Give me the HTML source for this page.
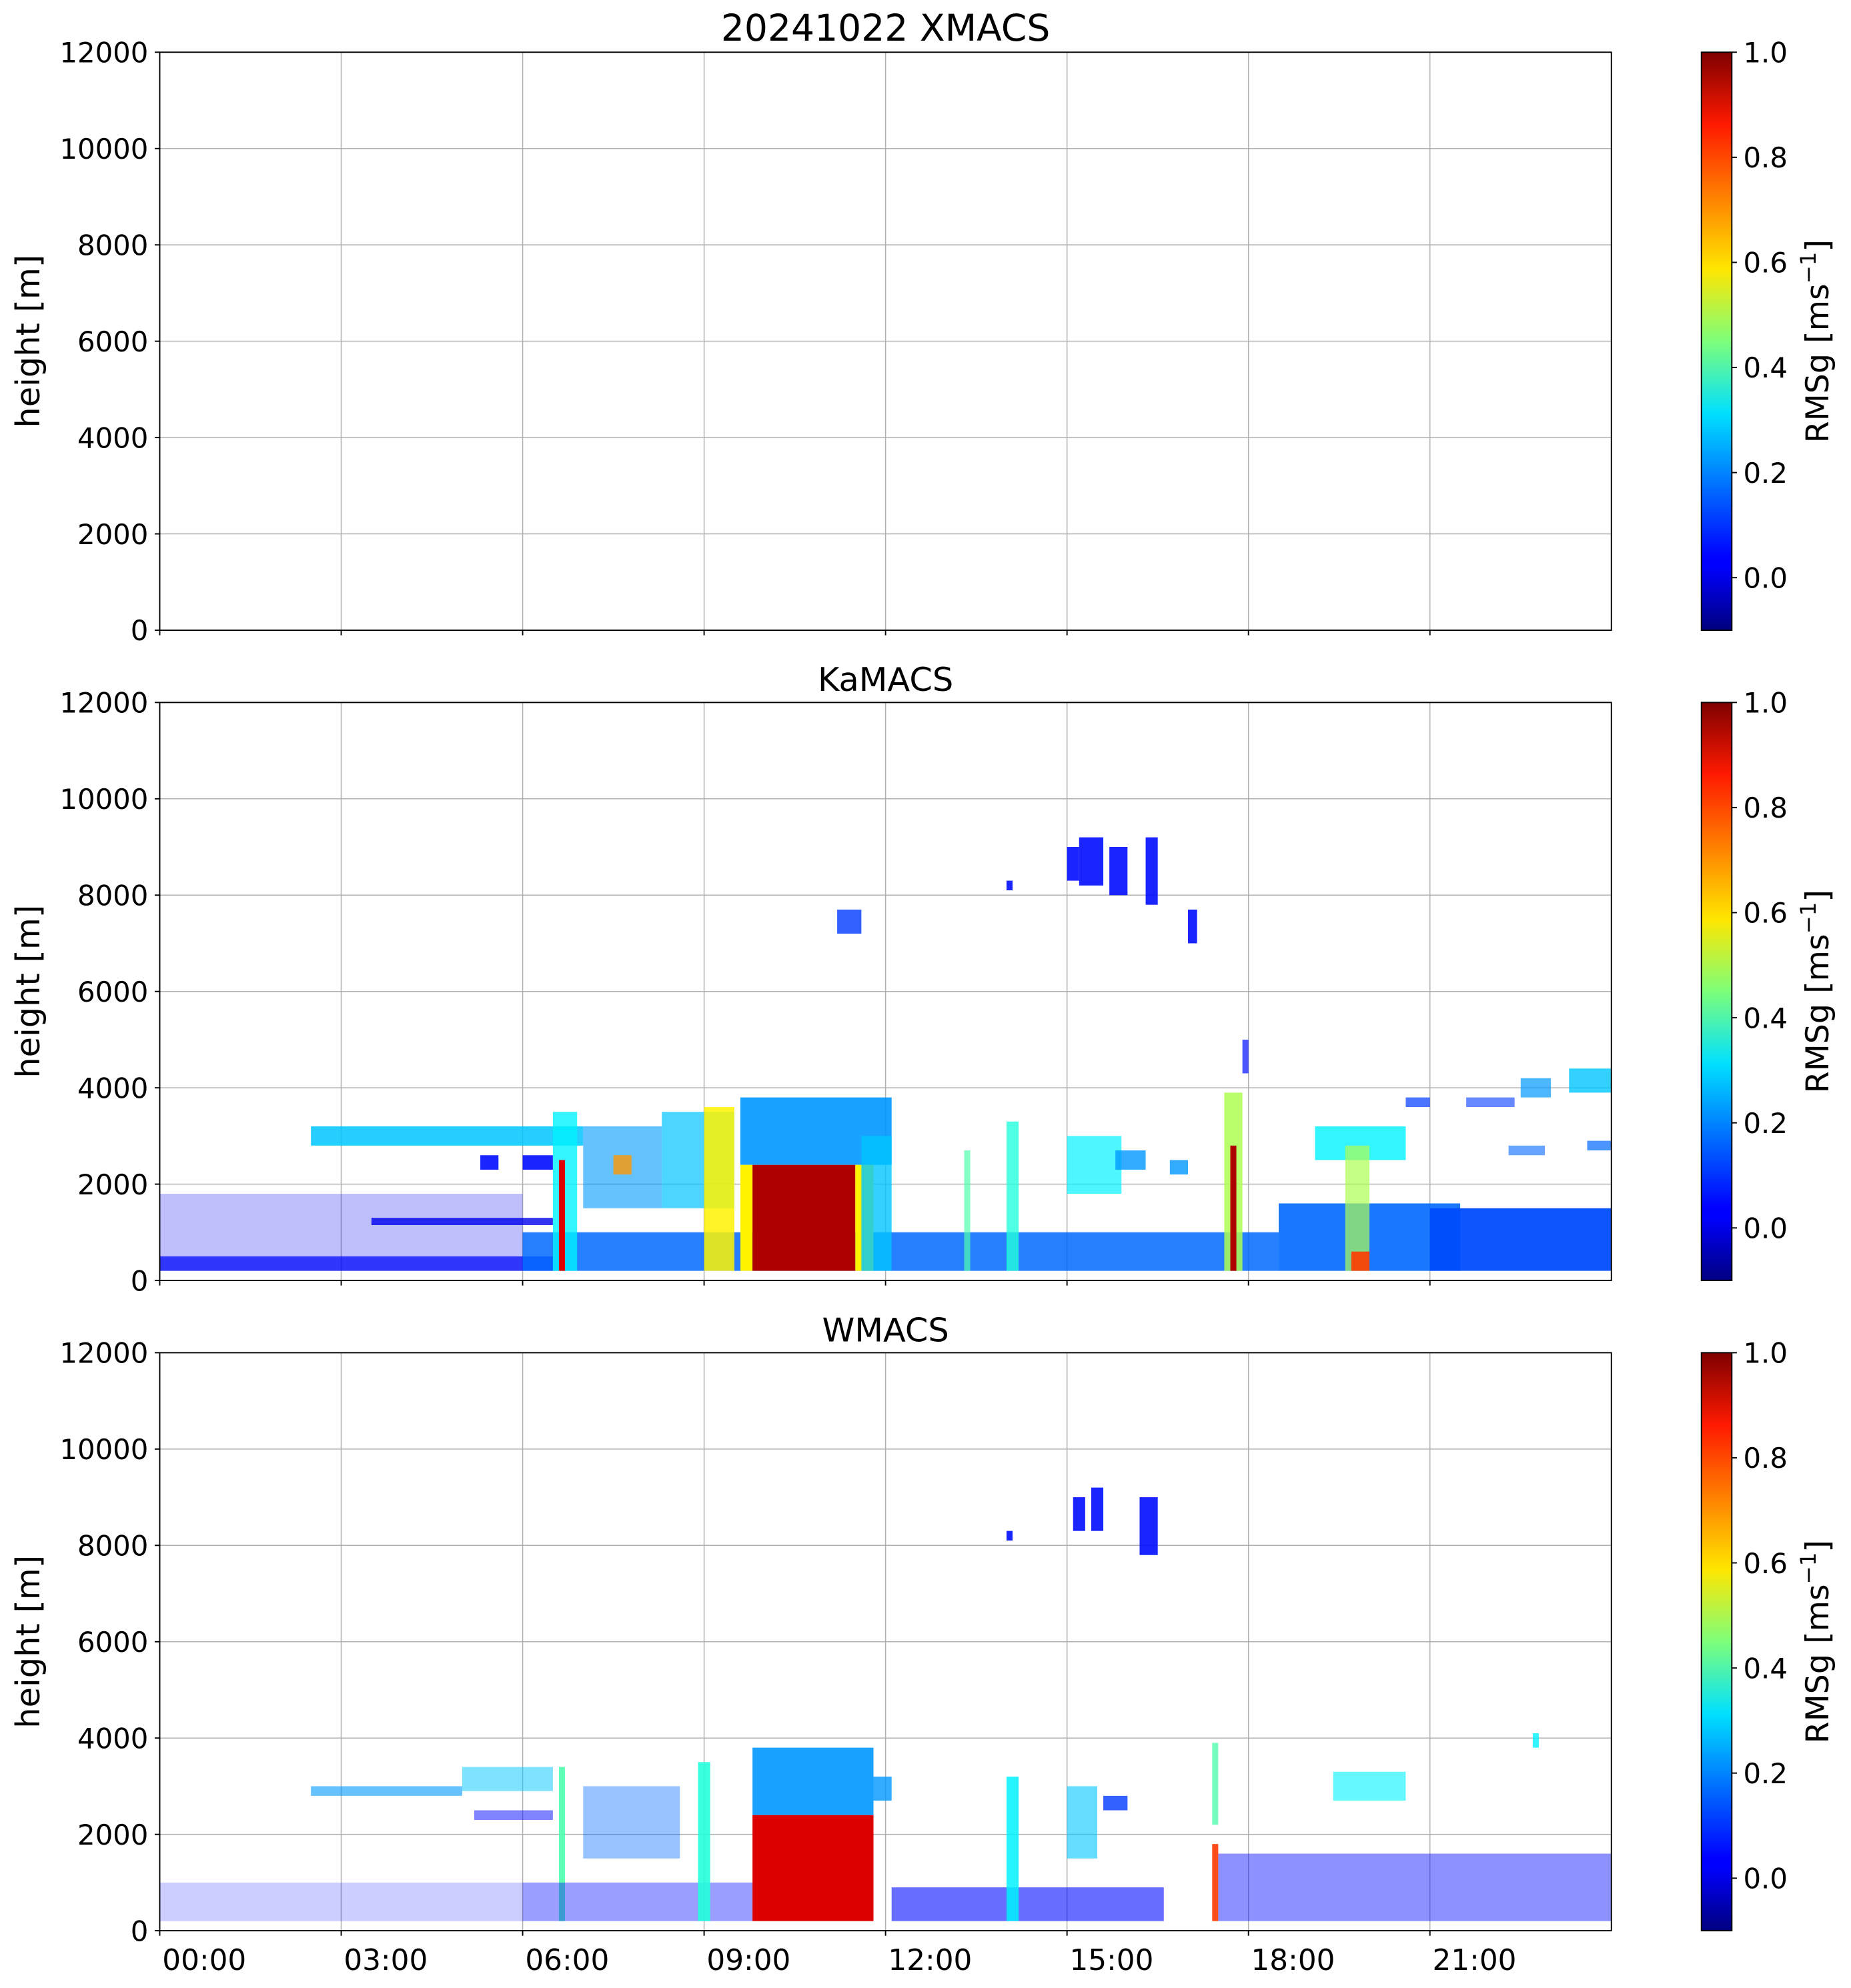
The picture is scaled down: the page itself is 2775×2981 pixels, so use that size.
<!DOCTYPE html>
<html><head><meta charset="utf-8"><style>
html,body{margin:0;padding:0;background:#fff}
svg{display:block}
text{font-family:"DejaVu Sans","Liberation Sans",sans-serif;fill:#000}
</style></head><body>
<svg id="fig" width="2775" height="2981" viewBox="0 0 1460 1568" xmlns="http://www.w3.org/2000/svg">
<defs>
<linearGradient id="jet" x1="0" y1="1" x2="0" y2="0">
<stop offset="0" stop-color="#00007f"/><stop offset="0.11" stop-color="#0000ff"/><stop offset="0.125" stop-color="#0000ff"/>
<stop offset="0.375" stop-color="#00e0ff"/><stop offset="0.5" stop-color="#7dff7a"/><stop offset="0.625" stop-color="#ffe600"/>
<stop offset="0.875" stop-color="#ff1a00"/><stop offset="1" stop-color="#7f0000"/>
</linearGradient>
</defs>
<g id="root"></g>
</svg>
<script>
// ---- data (hours, metres, RMSg values, fill density) ----
const xTickLabels = ["00:00","03:00","06:00","09:00","12:00","15:00","18:00","21:00"];
const xTickHours = [0,3,6,9,12,15,18,21];
const yTicks = [0,2000,4000,6000,8000,10000,12000];
const cbTicks = [0.0,0.2,0.4,0.6,0.8,1.0];
const panelTitles = ["20241022 XMACS","KaMACS","WMACS"];

const kaT0 = [0,0,6,3.5,2.5,5.3,6.0,6.5,6.6,7.0,7.5,8.3,9.0,9.6,9.6,9.8,11.5,11.6,13.3,14.0,15.0,15.8,16.7,17.6,17.7,17.9,18.5,21.0,19.1,19.6,19.7,20.6,21.6,22.5,23.3,22.3,23.6,15.0,15.2,15.7,16.3,17.0,11.2,14.0];
const kaT1 = [6.5,6,18.5,6.5,7.0,5.6,6.5,6.9,6.7,8.3,7.8,9.5,9.5,12.1,9.8,11.5,11.8,12.1,13.4,14.2,15.9,16.3,17.0,17.9,17.8,18.0,21.5,24,20.6,20.0,20.0,21.0,22.4,23.0,24,22.9,24,15.2,15.6,16.0,16.5,17.15,11.6,14.1];
const kaH0 = [200,200,200,1150,2800,2300,2300,200,200,1500,2200,1500,200,2400,200,200,200,200,200,200,1800,2300,2200,200,200,4300,200,200,2500,200,200,3600,3600,3800,3900,2600,2700,8300,8200,8000,7800,7000,7200,8100];
const kaH1 = [500,1800,1000,1300,3200,2600,2600,3500,2500,3200,2600,3500,3600,3800,2400,2400,2400,3000,2700,3300,3000,2700,2500,3900,2800,5000,1600,1500,3200,2800,600,3800,3800,4200,4400,2800,2900,9000,9200,9000,9200,7700,7700,8300];
const kaV  = [0.05,0.02,0.15,0.02,0.25,0.05,0.05,0.3,0.9,0.2,0.7,0.25,0.6,0.2,0.6,0.95,0.6,0.25,0.4,0.35,0.3,0.2,0.2,0.5,0.95,0.05,0.15,0.12,0.3,0.5,0.8,0.1,0.1,0.2,0.25,0.15,0.15,0.05,0.05,0.05,0.05,0.05,0.1,0.05];
const kaD  = [0.75,0.25,0.85,0.8,0.85,0.9,0.9,0.8,1,0.6,0.8,0.7,0.85,0.9,1,1,1,0.8,0.7,0.8,0.7,0.8,0.8,0.85,1,0.7,0.9,0.95,0.8,0.7,0.9,0.7,0.6,0.7,0.8,0.6,0.7,0.9,0.9,0.9,0.9,0.9,0.8,0.9];

const wT0 = [2.5,5.0,5.2,6.6,7.0,0,6.0,8.9,9.8,9.8,11.8,12.1,14.0,15.0,15.6,17.4,17.4,17.5,19.4,15.1,15.4,16.2,14.0,22.7];
const wT1 = [5.0,6.5,6.5,6.7,8.6,6.0,9.8,9.1,11.8,11.8,12.1,16.6,14.2,15.5,16.0,17.5,17.5,24,20.6,15.3,15.6,16.5,14.1,22.8];
const wH0 = [2800,2900,2300,200,1500,200,200,200,2400,200,2700,200,200,1500,2500,2200,200,200,2700,8300,8300,7800,8100,3800];
const wH1 = [3000,3400,2500,3400,3000,1000,1000,3500,3800,2400,3200,900,3200,3000,2800,3900,1800,1600,3300,9000,9200,9000,8300,4100];
const wV  = [0.2,0.25,0.05,0.4,0.15,0.05,0.05,0.35,0.2,0.9,0.2,0.05,0.3,0.25,0.1,0.4,0.8,0.05,0.3,0.05,0.05,0.05,0.05,0.3];
const wD  = [0.6,0.5,0.5,0.9,0.4,0.2,0.4,0.9,0.9,1,0.8,0.6,0.85,0.6,0.8,0.8,0.9,0.45,0.6,0.9,0.9,0.9,0.9,0.8];

// ---- layout ----
const L=126, R=1271, panelTops=[41,554,1067], PH=456, CBX=1342, CBW=24;
const NS="http://www.w3.org/2000/svg";
const root=document.getElementById('root');
function mk(tag,attrs,parent){const e=document.createElementNS(NS,tag);for(const k in attrs)e.setAttribute(k,attrs[k]);(parent||root).appendChild(e);return e;}
const xS=h=>L+(R-L)*h/24;
function yS(top){return m=>top+PH*(1-m/12000);}
function cbY(top){return v=>top+PH*(1-(v+0.1)/1.1);}
function jet(v){const t=Math.max(0,Math.min(1,(v+0.1)/1.1));
 const c=x=>Math.round(255*Math.max(0,Math.min(1,x)));
 const r=c(1.5-Math.abs(4*t-3)),g=c(1.5-Math.abs(4*t-2)),b=c(1.5-Math.abs(4*t-1));
 return `rgb(${r},${g},${b})`;}

function drawData(i,T0,T1,H0,H1,V,D){
 const y=yS(panelTops[i]);
 const g=mk('g',{});
 
 
 for(let k=0;k<V.length;k++){
  const r=mk('rect',{x:xS(T0[k]),y:y(H1[k]),width:xS(T1[k])-xS(T0[k]),height:y(H0[k])-y(H1[k]),fill:jet(V[k]),'fill-opacity':D[k]},g);
  
  
 }
}

for(let i=0;i<3;i++){
 const top=panelTops[i], y=yS(top);
 const grid=mk('g',{stroke:'#b0b0b0','stroke-width':0.8});
 
 
 xTickHours.slice(1).forEach(h=>mk('line',{x1:xS(h),x2:xS(h),y1:top,y2:top+PH},grid));
 yTicks.forEach(v=>mk('line',{x1:L,x2:R,y1:y(v),y2:y(v)},grid));
 if(i===1)drawData(1,kaT0,kaT1,kaH0,kaH1,kaV,kaD);
 if(i===2)drawData(2,wT0,wT1,wH0,wH1,wV,wD);
 const fr=mk('rect',{x:L,y:top,width:R-L,height:PH,fill:'none',stroke:'#000','stroke-width':1});
 
 
 yTicks.forEach(v=>{
  mk('line',{x1:L-4,x2:L,y1:y(v),y2:y(v),stroke:'#000','stroke-width':1});
  const t=mk('text',{x:L-9,y:y(v)+8,'text-anchor':'end','font-size':22});
  t.textContent=v;
  
  
 });
 xTickHours.forEach((h,j)=>{
  mk('line',{x1:xS(h),x2:xS(h),y1:top+PH,y2:top+PH+4,stroke:'#000','stroke-width':1});
  if(i===2){const t=mk('text',{x:xS(h)+2,y:top+PH+31,'font-size':23});
   t.textContent=xTickLabels[j];
   
   }
 });
 const yl=mk('text',{x:0,y:0,transform:`translate(31,${top+PH/2}) rotate(-90)`,'text-anchor':'middle','font-size':26});
 yl.textContent='height [m]';
 
 
 const tt=mk('text',{x:(L+R)/2,y:top-9,'text-anchor':'middle','font-size':i===0?29:26});
 tt.textContent=panelTitles[i];
 
 
 const cb=mk('rect',{x:CBX,y:top,width:CBW,height:PH,fill:'url(#jet)',stroke:'#000','stroke-width':1});
 
 
 const cy=cbY(top);
 cbTicks.forEach(v=>{
  mk('line',{x1:CBX+CBW,x2:CBX+CBW+4,y1:cy(v),y2:cy(v),stroke:'#000','stroke-width':1});
  const t=mk('text',{x:CBX+CBW+9,y:cy(v)+8,'font-size':22});
  t.textContent=v.toFixed(1);
  
  
 });
 const cl=mk('text',{x:0,y:0,transform:`translate(1442,${top+PH/2}) rotate(-90)`,'text-anchor':'middle','font-size':25});
 cl.innerHTML='RMSg [ms<tspan dy="-10" font-size="17">−1</tspan><tspan dy="10">]</tspan>';
 
 
}
</script>
</body></html>
